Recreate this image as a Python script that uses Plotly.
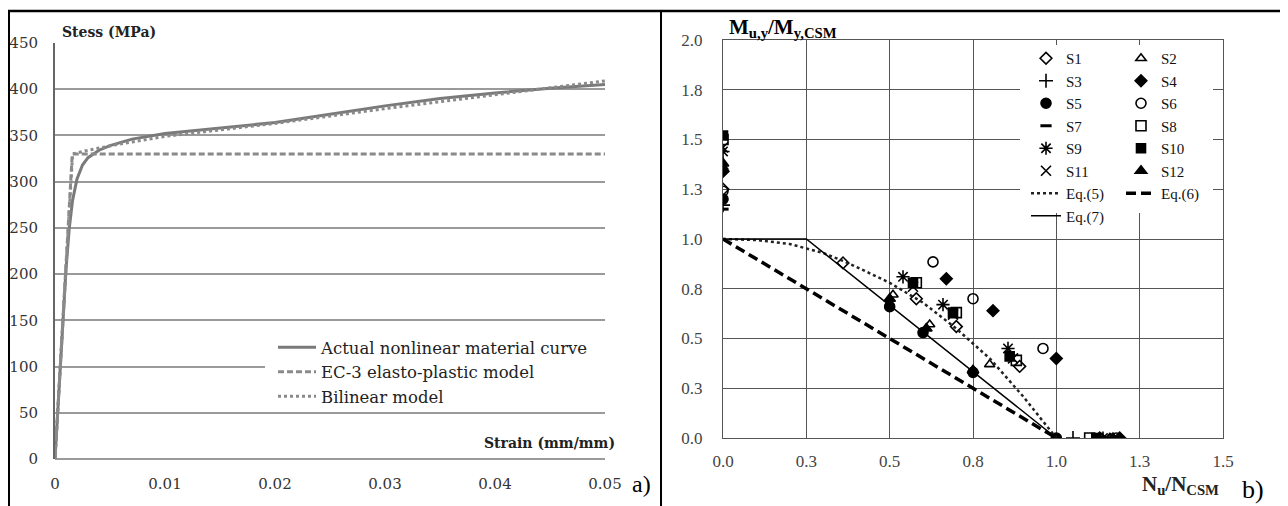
import plotly.graph_objects as go

# ---------------- Panel a) data ----------------
actual_strain = [0, 0.0005, 0.001, 0.0013, 0.0016, 0.002, 0.0025, 0.003, 0.004, 0.005,
                 0.007, 0.01, 0.015, 0.02, 0.025, 0.03, 0.035, 0.04, 0.045, 0.05]
actual_stress = [0, 105, 205, 250, 280, 303, 318, 326, 334, 339,
                 346, 352, 358, 364, 373, 382, 390, 396, 401, 405]
ec3_strain = [0, 0.00157, 0.05]
ec3_stress = [0, 330, 330]
bilin_strain = [0, 0.0016, 0.003, 0.006, 0.01, 0.02, 0.03, 0.04, 0.05]
bilin_stress = [0, 330, 334, 341, 349, 363, 379, 394, 409]
a_xticks = [0, 0.01, 0.02, 0.03, 0.04, 0.05]
a_xticktext = ["0", "0.01", "0.02", "0.03", "0.04", "0.05"]
a_yticks = [0, 50, 100, 150, 200, 250, 300, 350, 400, 450]

# ---------------- Panel b) data ----------------
names = ["S1", "S2", "S3", "S4", "S5", "S6", "S7", "S8", "S9", "S10", "S11", "S12"]
N_S1 = [0, 0.36, 0.58, 0.70, 0.89, 1.13]
M_S1 = [1.25, 0.88, 0.70, 0.56, 0.36, 0]
N_S2 = [0, 0.51, 0.62, 0.80, 1.16]
M_S2 = [1.36, 0.72, 0.57, 0.37, 0]
N_S3 = [0, 1.05]
M_S3 = [1.17, 0]
N_S4 = [0, 0.67, 0.81, 1.0, 1.19]
M_S4 = [1.34, 0.80, 0.64, 0.40, 0]
N_S5 = [0, 0.50, 0.60, 0.75, 1.0]
M_S5 = [1.20, 0.66, 0.53, 0.33, 0]
N_S6 = [0, 0.63, 0.75, 0.96, 1.18]
M_S6 = [1.24, 0.885, 0.70, 0.45, 0]
N_S7 = [0, 1.15]
M_S7 = [1.15, 0]
N_S8 = [0, 0.58, 0.70, 0.88, 1.10]
M_S8 = [1.50, 0.78, 0.63, 0.39, 0]
N_S9 = [0, 0.54, 0.66, 0.855, 1.14]
M_S9 = [1.44, 0.81, 0.67, 0.45, 0]
N_S10 = [0, 0.57, 0.69, 0.86, 1.12]
M_S10 = [1.52, 0.78, 0.63, 0.41, 0]
N_S11 = [0, 0.57, 0.69, 0.87, 1.15]
M_S11 = [1.46, 0.76, 0.62, 0.40, 0]
N_S12 = [0, 0.50, 0.61, 0.75, 1.17]
M_S12 = [1.38, 0.70, 0.55, 0.34, 0]

eq5_N = [0, 0.1, 0.2, 0.3, 0.36, 0.4, 0.5, 0.6, 0.7, 0.8, 0.9, 1.0]
eq5_M = [1.0, 0.995, 0.975, 0.93, 0.89, 0.86, 0.78, 0.68, 0.55, 0.40, 0.21, 0]
eq6_N = [0, 1.0]
eq6_M = [1.0, 0]
eq7_N = [0, 0.25, 1.0]
eq7_M = [1.0, 1.0, 0]

b_xticks = [0, 0.25, 0.5, 0.75, 1.0, 1.25, 1.5]
b_xticktext = ["0.0", "0.3", "0.5", "0.8", "1.0", "1.3", "1.5"]
b_yticks = [0, 0.25, 0.5, 0.75, 1.0, 1.25, 1.5, 1.75, 2.0]
b_yticktext = ["0.0", "0.3", "0.5", "0.8", "1.0", "1.3", "1.5", "1.8", "2.0"]

series_N = [N_S1, N_S2, N_S3, N_S4, N_S5, N_S6, N_S7, N_S8, N_S9, N_S10, N_S11, N_S12]
series_M = [M_S1, M_S2, M_S3, M_S4, M_S5, M_S6, M_S7, M_S8, M_S9, M_S10, M_S11, M_S12]
symbols = ["diamond-open", "triangle-up-open", "cross-thin-open", "diamond", "circle",
           "circle-open", "line-ew-open", "square-open", "asterisk-open", "square",
           "x-thin-open", "triangle-up"]
sizes = [9, 9, 10, 9, 10, 10, 8, 10, 11, 9, 10, 10]

SERIF = "Liberation Serif"
DSERIF = "DejaVu Serif"

# page body has an 8px margin: figure drawn 8px in from the window's corner
OFF = 8
FW, FH = 1288 - OFF, 506 - OFF


def px(x):
    return (x - OFF) / FW


def py(y):
    return 1 - (y - OFF) / FH


fig = go.Figure()

# Panel a traces
fig.add_trace(go.Scatter(x=actual_strain, y=actual_stress, mode="lines",
                         name="Actual nonlinear material curve",
                         line=dict(color="#7a7a7a", width=3),
                         xaxis="x", yaxis="y", legend="legend"))
fig.add_trace(go.Scatter(x=ec3_strain, y=ec3_stress, mode="lines",
                         name="EC-3 elasto-plastic model",
                         line=dict(color="#8a8a8a", width=3, dash="6px,3px"),
                         xaxis="x", yaxis="y", legend="legend"))
fig.add_trace(go.Scatter(x=bilin_strain, y=bilin_stress, mode="lines",
                         name="Bilinear model",
                         line=dict(color="#8a8a8a", width=3, dash="dot"),
                         xaxis="x", yaxis="y", legend="legend"))

# Panel b traces
for i, nm in enumerate(names):
    leg = "legend2" if i % 2 == 0 else "legend3"
    fig.add_trace(go.Scatter(
        x=series_N[i], y=series_M[i], mode="markers", name=nm,
        marker=dict(symbol=symbols[i], size=sizes[i], color="black",
                    line=dict(color="black", width=3 if nm == "S7" else 1.6)),
        xaxis="x2", yaxis="y2", legend=leg))

fig.add_trace(go.Scatter(x=eq5_N, y=eq5_M, mode="lines", name="Eq.(5)",
                         line=dict(color="#222", width=2.5, dash="dot"),
                         xaxis="x2", yaxis="y2", legend="legend2"))
fig.add_trace(go.Scatter(x=eq6_N, y=eq6_M, mode="lines", name="Eq.(6)",
                         line=dict(color="black", width=3.5, dash="10px,5px"),
                         xaxis="x2", yaxis="y2", legend="legend3"))
fig.add_trace(go.Scatter(x=eq7_N, y=eq7_M, mode="lines", name="Eq.(7)",
                         line=dict(color="black", width=1.5),
                         xaxis="x2", yaxis="y2", legend="legend2"))

shapes = [
    # page/table frame lines
    dict(type="line", xref="paper", yref="paper", x0=0, x1=1, y0=py(11), y1=py(11),
         line=dict(color="black", width=2.5)),
    dict(type="line", xref="paper", yref="paper", x0=px(9), x1=px(9), y0=py(11), y1=0,
         line=dict(color="black", width=2)),
    dict(type="line", xref="paper", yref="paper", x0=px(661), x1=px(661), y0=py(11), y1=0,
         line=dict(color="black", width=2)),
    # white box behind the legend of panel a
    dict(type="rect", xref="paper", yref="paper", x0=px(265), x1=px(606),
         y0=py(404), y1=py(331), fillcolor="white", line=dict(width=0), layer="above"),
    # white box behind the two-column legend of panel b
    dict(type="rect", xref="paper", yref="paper", x0=px(1020), x1=px(1213),
         y0=py(213), y1=py(45), fillcolor="white", line=dict(width=0), layer="above"),
]

annotations = [
    dict(text="<b>Stess (MPa)</b>", xref="paper", yref="paper", x=px(60), y=py(32),
         xanchor="left", yanchor="middle", showarrow=False,
         font=dict(family=DSERIF, size=14, color="#222")),
    dict(text="<b>Strain (mm/mm)</b>", xref="paper", yref="paper", x=px(617), y=py(443),
         xanchor="right", yanchor="middle", showarrow=False,
         font=dict(family=DSERIF, size=14, color="#222")),
    dict(text="a)", xref="paper", yref="paper", x=px(641), y=py(484),
         xanchor="center", yanchor="middle", showarrow=False,
         font=dict(family=SERIF, size=24, color="black")),
    dict(text="<b>M<sub>u,y</sub>/M<sub>y,CSM</sub></b>", xref="paper", yref="paper",
         x=px(727), y=py(28), xanchor="left", yanchor="middle", showarrow=False,
         font=dict(family=SERIF, size=21, color="black")),
    dict(text="<b>N<sub>u</sub>/N<sub>CSM</sub></b>", xref="paper", yref="paper",
         x=px(1140), y=py(485), xanchor="left", yanchor="middle", showarrow=False,
         font=dict(family=SERIF, size=21, color="#222")),
    dict(text="b)", xref="paper", yref="paper", x=px(1253), y=py(489),
         xanchor="center", yanchor="middle", showarrow=False,
         font=dict(family=SERIF, size=26, color="black")),
]

fig.update_layout(
    width=FW, height=FH,
    margin=dict(l=0, r=0, t=0, b=0, pad=0, autoexpand=False),
    paper_bgcolor="white", plot_bgcolor="white",
    shapes=shapes, annotations=annotations,
    xaxis=dict(domain=[px(55), px(605)], range=[0, 0.05], tickvals=a_xticks,
               ticktext=a_xticktext, showgrid=False, zeroline=False, showline=False,
               ticks="", ticklabelstandoff=14, automargin=False,
               tickfont=dict(family=DSERIF, size=15, color="#333"), anchor="y"),
    yaxis=dict(domain=[py(459), py(43)], range=[0, 450], tickvals=a_yticks,
               showgrid=True, gridcolor="#9a9a9a", gridwidth=2,
               zeroline=True, zerolinecolor="#9a9a9a", zerolinewidth=2,
               showline=True, linecolor="#666", linewidth=2,
               ticks="", ticklabelstandoff=12, automargin=False,
               tickfont=dict(family=DSERIF, size=15, color="#333"), anchor="x"),
    xaxis2=dict(domain=[px(723), px(1223)], range=[0, 1.5], tickvals=b_xticks,
                ticktext=b_xticktext, showgrid=True, gridcolor="#555", gridwidth=1,
                zeroline=False, showline=True, mirror=True, linecolor="#555", linewidth=1,
                ticks="", ticklabelstandoff=8, automargin=False,
                tickfont=dict(family=SERIF, size=17, color="#444"), anchor="y2"),
    yaxis2=dict(domain=[py(438), py(40)], range=[0, 2.0], tickvals=b_yticks,
                ticktext=b_yticktext, showgrid=True, gridcolor="#555", gridwidth=1,
                zeroline=False, showline=True, mirror=True, linecolor="#555", linewidth=1,
                ticks="", ticklabelstandoff=16, automargin=False,
                tickfont=dict(family=SERIF, size=17, color="#444"), anchor="x2"),
    legend=dict(x=px(273), y=py(330), xanchor="left", yanchor="top",
                bgcolor="rgba(0,0,0,0)", borderwidth=0, itemwidth=38,
                font=dict(family=DSERIF, size=16.5, color="#222"), tracegroupgap=0),
    legend2=dict(x=px(1026), y=py(42), xanchor="left", yanchor="top",
                 bgcolor="rgba(0,0,0,0)", borderwidth=0,
                 font=dict(family=SERIF, size=15, color="#111"), tracegroupgap=0),
    legend3=dict(x=px(1121), y=py(42), xanchor="left", yanchor="top",
                 bgcolor="rgba(0,0,0,0)", borderwidth=0,
                 font=dict(family=SERIF, size=15, color="#111"), tracegroupgap=0),
)

fig.write_html("out.html")
